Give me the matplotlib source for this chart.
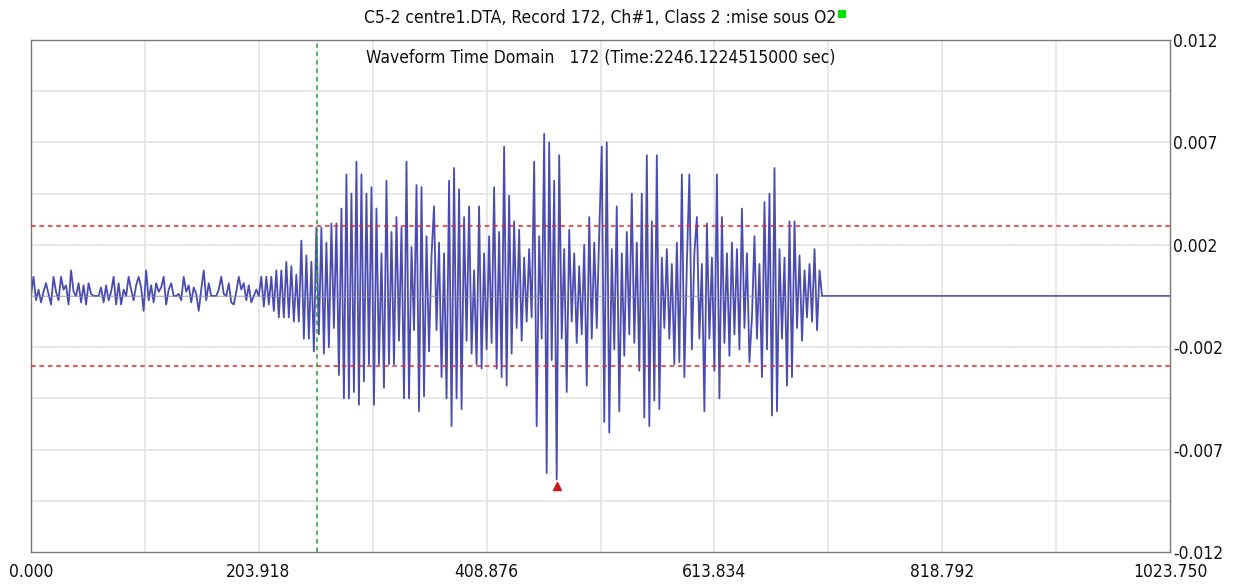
import numpy as np
import matplotlib
matplotlib.use("Agg")
import matplotlib.pyplot as plt
from matplotlib.patches import Rectangle
from matplotlib.transforms import offset_copy

plt.rcParams['font.family'] = ['DejaVu Sans']
plt.rcParams['font.stretch'] = 'condensed'

title = "C5-2 centre1.DTA, Record 172, Ch#1, Class 2 :mise sous O2"
subtitle = "Waveform Time Domain   172 (Time:2246.1224515000 sec)"

sample_step = 2.25       # time between stored samples
record_end = 1023.75
amp_unit = 1e-4          # stored amplitudes are in units of 1e-4

# quiet pre-trigger noise
pretrigger = [
    0, 9, -2, 3, -3, 2, 6, 1, -4, 9,
    2, -2, 9, 3, 5, -4, 12, 2, 0, 6,
    -3, 5, -4, 6, 1, 0, 0, 0, 4, -3,
    5, -2, 2, 9, -4, 6, -4, 3, 0, 9,
    3, -2, 5, 9, 4, -7, 12, -2, 5, -3,
    6, 2, 4, 9, -4, 3, 6, 0, 0, 1,
    -2, 9, 2, 5, -3, 4, 1, -7, 3, 12,
    -2, 6, 0, 0, 0, 3, 9, 1, 0, 6,
    -3, -4, 2, 9, 3, 6, -2, 5, -3, 0,
    3, 0, 9, -5, 9, -4, 9, -7, 12, -10,
    12, -10, 16, -10, 14, -12,
]

# acoustic burst
burst = [
    10, -12, 26, -20, 19, -20, 16, -26, 32, -18,
    32, -27, 25, -24, 34, -15, 34, -37, 41, -48,
    57, -48, 48, -45, 63, -51, 57, -40, 48, -32,
    51, -51, 41, -32, 20, -43, 54, -32, 30, -32,
    37, -21, 32, -48, 63, -48, 23, -16, 52, -54,
    51, -47, 28, -26, 19, 42, -16, 25, -38, 20,
    -48, 54, -61, 60, -48, 50, -53, 37, -21, 42,
    -27, 12, -32, 42, -34, 20, -25, 28, -22, 51,
    -34, 30, -38, 70, -42, 47, -27, 35, -15, 31,
    -21, 18, -12, 22, -10, 63, -61, 28, -20, 76,
    -83, 72,
    -30, 54, -86, 66, -20, 22, -45, 31, -12, 20,
    -22, 14, -18, 24, -42, 37, -20, 25, -15, 30,
    70, -59, 72, -64,
    22, -25, 42, -54, 20, -28, 30, -18, 48, -22,
    25, -35, 48, -57, 66, -61, 35, -49, 66, -53,
    18, -15, 22, -20, 15, -32, 25, -31,
    57, -38, 15, 57, -25, 20, 37, -20, 15, -54,
    34, -20, 18, -35, 57, -48, 37, -22, 20, -28,
    25, -18, 22, -25, 41, -15, 20, -31, -10, 28,
    -20, 15, -38, 44, -25, 48, -56, 60, -54, 22,
    -20, 18, -42, 35, -38, 35, -15, 19, -21, 12,
    -10, 15, -12, 22, -16, 12,
]

threshold = 0.00328
trigger_time = 257.0

x_tick_values = [0.0, 203.918, 408.876, 613.834, 818.792, 1023.75]
x_tick_labels = ["0.000", "203.918", "408.876", "613.834", "818.792", "1023.750"]
y_tick_values = [0.012, 0.0072, 0.0024, -0.0024, -0.0072, -0.012]
y_tick_labels = ["0.012", "0.007", "0.002", "-0.002", "-0.007", "-0.012"]
x_grid_step = 102.375
y_grid_step = 0.0024

# full record: burst followed by a flat zero trace
n_total = int(round(record_end / sample_step)) + 1
t = np.arange(n_total) * sample_step
signal = np.zeros(n_total)
measured = np.array(pretrigger + burst, dtype=float) * amp_unit
signal[:len(measured)] = measured

fig = plt.figure(figsize=(12.4, 5.84), dpi=100)
ax = fig.add_axes([31 / 1240, 32 / 584, 1139 / 1240, 512 / 584])

ax.set_xlim(0, record_end)
ax.set_ylim(-0.012, 0.012)

for gx in np.arange(x_grid_step, record_end - 1, x_grid_step):
    ax.axvline(gx, color='#e4e4e4', lw=1.2, zorder=0)
for gy in np.arange(-0.012 + y_grid_step, 0.012 - 1e-6, y_grid_step):
    ax.axhline(gy, color='#e4e4e4', lw=1.2, zorder=0)

ax.plot(t, signal, color='#4a4cb2', lw=1.3, zorder=2)
ax.axhline(0, color='#9a9aa8', lw=0.8, alpha=0.6, zorder=3)

ax.axhline(threshold, color='#e8262a', lw=1.1, ls=(0, (3, 2.5)), zorder=4)
ax.axhline(-threshold, color='#e8262a', lw=1.1, ls=(0, (3, 2.5)), zorder=4)
ax.axvline(trigger_time, color='#2f9a3a', lw=1.1, ls=(0, (3, 2.5)), zorder=4)

# marker under the largest excursion
imin = int(np.argmin(signal))
ax.plot([t[imin]], [signal[imin]], marker='^', ms=6, color='#cc1a1a', ls='none',
        transform=offset_copy(ax.transData, fig=fig, y=-7, units='dots'), zorder=5,
        clip_on=False)

ax.set_xticks(x_tick_values)
ax.set_xticklabels(x_tick_labels)
ax.set_yticks(y_tick_values)
ax.set_yticklabels(y_tick_labels)
ax.yaxis.tick_right()
ax.tick_params(axis='both', length=0, labelsize=12.5, colors='#111111')
ax.tick_params(axis='x', pad=8)
ax.tick_params(axis='y', pad=2)

for s in ax.spines.values():
    s.set_color('#7a7a7a')
    s.set_linewidth(1.0)

ax.text(0.5, 1 - 18 / 512, subtitle, transform=ax.transAxes, ha='center', va='center',
        fontsize=12.5, color='#111111')

ttl = fig.text((31 + 1170) / 2 / 1240, 1 - 18 / 584, title, ha='center', va='center',
               fontsize=12.5, color='#111111')

fig.canvas.draw()
bb = ttl.get_window_extent(fig.canvas.get_renderer())
sq = 8
fig.patches.append(Rectangle((bb.x1 + 1, bb.y1 - 9), sq, sq, transform=None,
                             facecolor='#00e000', edgecolor='none', figure=fig))

fig.savefig('out.png', dpi=100)
